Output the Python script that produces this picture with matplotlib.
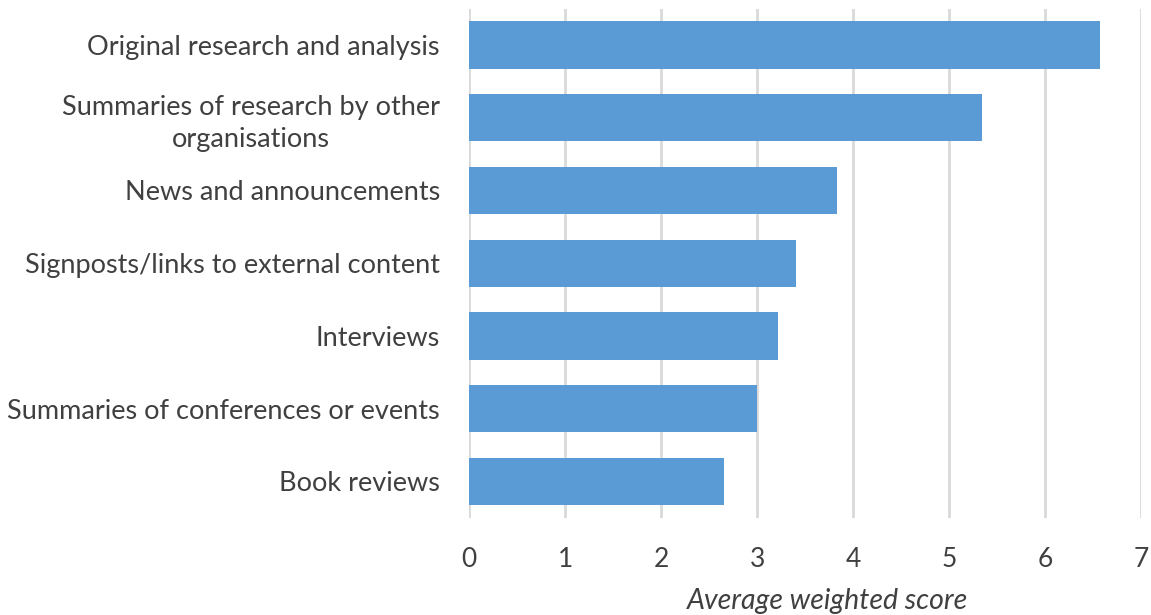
import numpy as np
import matplotlib
matplotlib.use("Agg")
import matplotlib.pyplot as plt

plt.rcParams['font.family'] = ['Lato', 'DejaVu Sans']

categories = [
    "Original research and analysis",
    "Summaries of research by other\norganisations",
    "News and announcements",
    "Signposts/links to external content",
    "Interviews",
    "Summaries of conferences or events",
    "Book reviews",
]
scores = [6.57, 5.34, 3.83, 3.40, 3.22, 3.00, 2.66]
xticks = [0, 1, 2, 3, 4, 5, 6, 7]

bar_color = "#5B9BD5"
grid_color = "#d9d9d9"
text_color = "#404040"

fig = plt.figure(figsize=(11.51, 6.15), dpi=100)
ax = fig.add_axes([0.4075, 0.158, 0.584, 0.828])

y = np.arange(len(categories))
ax.barh(y, scores, height=0.65, color=bar_color, zorder=3)

ax.set_xlim(0, 7)
ax.set_ylim(len(categories) - 0.5, -0.5)
ax.set_xticks(xticks)
ax.set_xticklabels([str(t) for t in xticks], fontsize=19, color=text_color)
ax.set_yticks(y)
ax.set_yticklabels(categories, fontsize=19.5, color=text_color, linespacing=1.35,
                   multialignment='center')
ax.tick_params(axis='x', length=0, pad=21)
ax.tick_params(axis='y', length=0, pad=21)

ax.grid(axis='x', color=grid_color, linewidth=2, zorder=0)
for s in ax.spines.values():
    s.set_visible(False)

ax.set_xlabel("Average weighted score", fontsize=20.5, style='italic',
              color=text_color)
ax.xaxis.set_label_coords(0.534, -0.163)
ax.xaxis.label.set_va('center')

fig.savefig("out.png", dpi=100)
